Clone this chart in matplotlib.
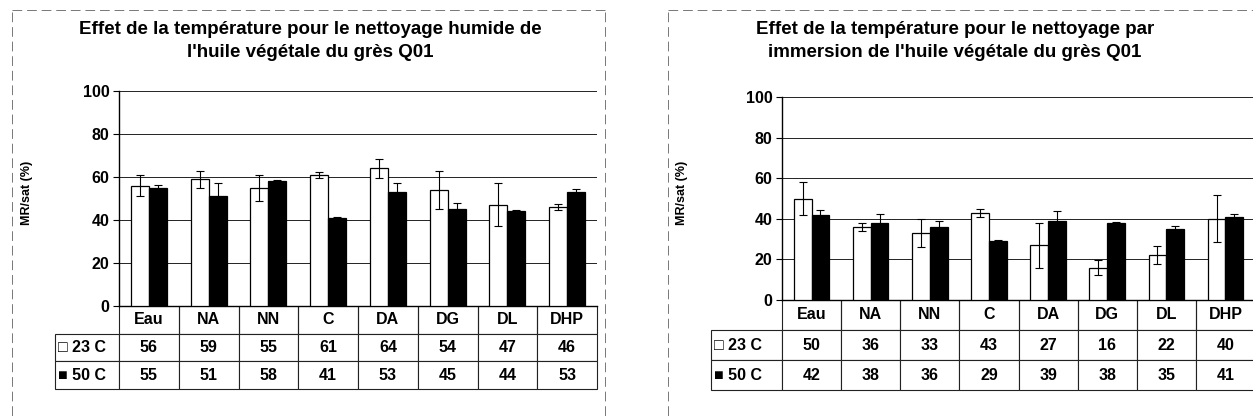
import matplotlib

matplotlib.use("Agg")
import matplotlib.pyplot as plt
from matplotlib.lines import Line2D
import numpy as np

plt.rcParams["font.family"] = ["Liberation Sans", "DejaVu Sans"]

categories = ["Eau", "NA", "NN", "C", "DA", "DG", "DL", "DHP"]
series_labels = ["\u25a1 23 C", "\u25a0 50 C"]

# humide (left)
wet_23 = [56, 59, 55, 61, 64, 54, 47, 46]
wet_50 = [55, 51, 58, 41, 53, 45, 44, 53]
wet_23_err = [5, 4, 6, 1.5, 4.5, 9, 10, 1.5]
wet_50_err = [1.5, 6, 0.5, 0.5, 4, 3, 0.5, 1.5]

# immersion (right)
imm_23 = [50, 36, 33, 43, 27, 16, 22, 40]
imm_50 = [42, 38, 36, 29, 39, 38, 35, 41]
imm_23_err = [8, 2, 7, 2, 11, 3.5, 4.5, 11.5]
imm_50_err = [2.5, 4.5, 3, 0.5, 5, 0.5, 1.5, 1.5]

titles = [
    "Effet de la température pour le nettoyage humide de\nl'huile végétale du grès Q01",
    "Effet de la température pour le nettoyage par\nimmersion de l'huile végétale du grès Q01",
]
ylabel = "MR/sat (%)"

W, H = 1253, 420


def px_box(x0, x1, y_top, y_bot):
    return [x0 / W, 1 - y_bot / H, (x1 - x0) / W, (y_bot - y_top) / H]


def draw_panel(ax, v23, v50, e23, e50, label_w, table_h, ylab_x, ylab_y):
    x = np.arange(len(categories))
    ax.bar(x - 0.15, v23, 0.3, color="white", edgecolor="black", linewidth=0.9,
           yerr=e23, capsize=3, error_kw=dict(elinewidth=0.8, capthick=0.8), zorder=3)
    ax.bar(x + 0.15, v50, 0.3, color="black", edgecolor="black", linewidth=0.9,
           yerr=e50, capsize=3, error_kw=dict(elinewidth=0.8, capthick=0.8), zorder=3)
    ax.set_xlim(-0.5, len(categories) - 0.5)
    ax.set_ylim(0, 100)
    ax.set_yticks([0, 20, 40, 60, 80, 100])
    ax.yaxis.grid(True, color="#222222", linewidth=0.7)
    ax.set_axisbelow(True)
    ax.set_xticks([])
    for s in ["top", "right"]:
        ax.spines[s].set_visible(False)
    ax.spines["left"].set_linewidth(1.0)
    ax.spines["bottom"].set_linewidth(1.0)
    ax.tick_params(axis="y", labelsize=11.5, length=4, width=0.8, pad=3)
    for t in ax.get_yticklabels():
        t.set_fontweight("bold")
    ax.set_ylabel(ylabel, fontsize=9, fontweight="bold")
    ax.yaxis.set_label_coords(ylab_x, ylab_y)

    cell_text = [[series_labels[0]] + [str(v) for v in v23],
                 [series_labels[1]] + [str(v) for v in v50]]
    col_w = [label_w] + [1.0 / len(categories)] * len(categories)
    tbl = ax.table(cellText=cell_text, colLabels=[""] + categories,
                   colWidths=col_w, cellLoc="center",
                   bbox=[-label_w, -table_h, 1 + label_w, table_h])
    tbl.auto_set_font_size(False)
    for (r, c), cell in tbl.get_celld().items():
        cell.set_linewidth(0.8)
        cell.set_edgecolor("#222222")
        cell.get_text().set_fontsize(11.5)
        cell.get_text().set_fontweight("bold")
        if r == 0 and c == 0:
            cell.visible_edges = ""
        elif r == 0:
            cell.visible_edges = "LRB"
        if c == 0 and r > 0:
            cell.get_text().set_ha("left")
            cell._loc = "left"
            cell.PAD = 0.04


fig = plt.figure(figsize=(W / 100, H / 100), dpi=100)

ax1 = fig.add_axes(px_box(119, 597, 91, 306))
draw_panel(ax1, wet_23, wet_50, wet_23_err, wet_50_err,
           label_w=64 / 478, table_h=83 / 215, ylab_x=-0.18, ylab_y=0.526)

ax2 = fig.add_axes(px_box(782, 1255, 97, 300))
draw_panel(ax2, imm_23, imm_50, imm_23_err, imm_50_err,
           label_w=71 / 473, table_h=90 / 203, ylab_x=-0.199, ylab_y=0.527)

fig.text(310 / W, 1 - 41 / H, titles[0], ha="center", va="center",
         fontsize=13.5, fontweight="bold", linespacing=1.45)
fig.text(955 / W, 1 - 41 / H, titles[1], ha="center", va="center",
         fontsize=13.5, fontweight="bold", linespacing=1.45)

# scanned chart-area borders
frame_kw = dict(color="#777777", linewidth=0.7, linestyle=(0, (10, 5)))
for xa, xb in [(12, 605), (668, 1253)]:
    fig.add_artist(Line2D([xa / W, xb / W], [1 - 10 / H] * 2, **frame_kw))
    fig.add_artist(Line2D([xa / W] * 2, [1 - 12 / H, 0], **frame_kw))
fig.add_artist(Line2D([605 / W] * 2, [1 - 12 / H, 0], **frame_kw))

fig.savefig("out.png", dpi=100)
